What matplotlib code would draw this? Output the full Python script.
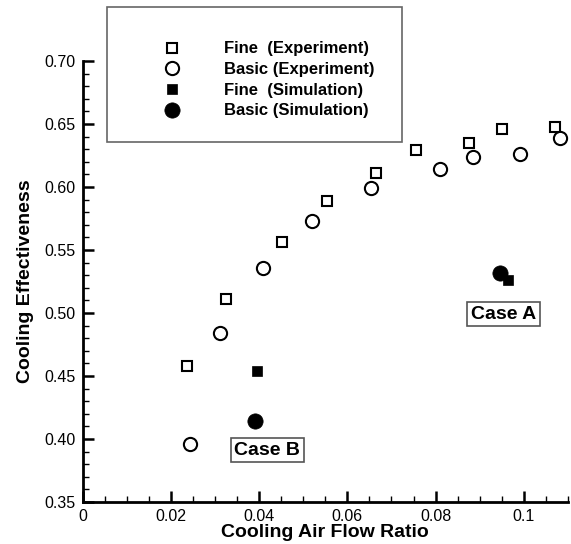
import matplotlib
matplotlib.use("Agg")
import matplotlib.pyplot as plt
from matplotlib.patches import Rectangle
from matplotlib.ticker import MultipleLocator

plt.rcParams['font.family'] = ['Liberation Sans', 'DejaVu Sans']

# experiment data
fine_exp_x = [0.0236, 0.0324, 0.0451, 0.0554, 0.0665, 0.0755, 0.0876, 0.0950, 0.1071]
fine_exp_y = [0.458, 0.511, 0.556, 0.589, 0.611, 0.629, 0.635, 0.646, 0.648]
basic_exp_x = [0.0243, 0.0312, 0.0410, 0.0521, 0.0653, 0.0809, 0.0885, 0.0991, 0.1082]
basic_exp_y = [0.396, 0.484, 0.536, 0.573, 0.599, 0.614, 0.624, 0.626, 0.639]

# simulation data (case B, case A)
fine_sim_x = [0.0395, 0.0964]
fine_sim_y = [0.454, 0.526]
basic_sim_x = [0.0391, 0.0946]
basic_sim_y = [0.414, 0.532]

case_labels = ['Case B', 'Case A']
case_pos = [(0.0419, 0.391), (0.0954, 0.499)]

xticks = [0, 0.02, 0.04, 0.06, 0.08, 0.1]
xticklabels = ['0', '0.02', '0.04', '0.06', '0.08', '0.1']
yticks = [0.35, 0.40, 0.45, 0.50, 0.55, 0.60, 0.65, 0.70]
yticklabels = ['0.35', '0.40', '0.45', '0.50', '0.55', '0.60', '0.65', '0.70']

fig = plt.figure(figsize=(5.71, 5.44), dpi=100)
ax = fig.add_axes([0.1445, 0.0772, 0.8502, 0.8107])

ax.plot(fine_exp_x, fine_exp_y, 's', ms=7.3, mfc='white', mec='black', mew=1.5,
        ls='none', label='Fine  (Experiment)')
ax.plot(basic_exp_x, basic_exp_y, 'o', ms=9.5, mfc='white', mec='black', mew=1.5,
        ls='none', label='Basic (Experiment)')
ax.plot(fine_sim_x, fine_sim_y, 's', ms=7.5, mfc='black', mec='black', mew=0.5,
        ls='none', label='Fine  (Simulation)')
ax.plot(basic_sim_x, basic_sim_y, 'o', ms=11, mfc='black', mec='black', mew=0.5,
        ls='none', label='Basic (Simulation)')

for lab, (cx, cy) in zip(case_labels, case_pos):
    ax.text(cx, cy, lab, fontsize=14, fontweight='bold', ha='center', va='center',
            bbox=dict(boxstyle='square,pad=0.18', fc='white', ec='#555555', lw=1.2))

ax.set_xlim(0, 0.11)
ax.set_ylim(0.35, 0.70)
ax.set_xticks(xticks)
ax.set_xticklabels(xticklabels)
ax.set_yticks(yticks)
ax.set_yticklabels(yticklabels)
ax.xaxis.set_minor_locator(MultipleLocator(0.005))
ax.yaxis.set_minor_locator(MultipleLocator(0.01))

ax.spines['top'].set_visible(False)
ax.spines['right'].set_visible(False)
for s in ['left', 'bottom']:
    ax.spines[s].set_linewidth(2)
ax.tick_params(which='major', direction='in', length=8, width=1.8, labelsize=11.5, pad=5)
ax.tick_params(which='minor', direction='in', length=4.5, width=1)

ax.set_xlabel('Cooling Air Flow Ratio', fontsize=14, fontweight='bold')
ax.set_ylabel('Cooling Effectiveness', fontsize=14, fontweight='bold')
ax.xaxis.set_label_coords(0.5, -0.05)
ax.yaxis.set_label_coords(-0.1, 0.5)

# legend box (gray frame drawn in figure pixels)
fig.patches.append(Rectangle((107 / 571, 1 - 142 / 544), 295 / 571, 135 / 544,
                             transform=fig.transFigure, fill=True, fc='white',
                             ec='#666666', lw=1.2, zorder=5))
leg = fig.legend(loc='upper left', bbox_to_anchor=(0.2715, 0.9239), frameon=False,
                 prop={'weight': 'bold', 'size': 12},
                 handlelength=2.0, handletextpad=2.14, labelspacing=0.34,
                 borderpad=0, borderaxespad=0)
leg.set_zorder(6)

fig.savefig('out.png', dpi=100)
